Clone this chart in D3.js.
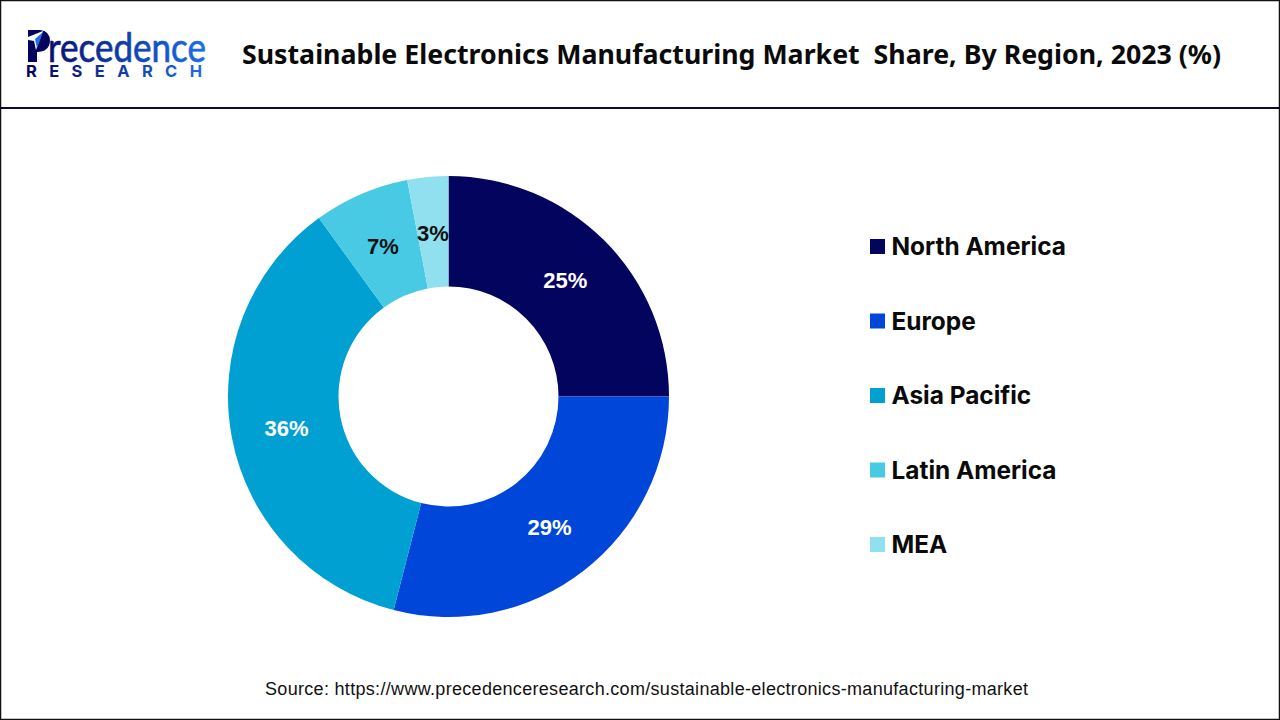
<!DOCTYPE html>
<html>
<head>
<meta charset="utf-8">
<script src="https://cdn.jsdelivr.net/npm/d3@7"></script>
<style>
html, body { margin: 0; padding: 0; background: #fff; }
svg { display: block; }
</style>
</head>
<body>
<svg width="1280" height="720"></svg>
<script>
var regions = ['North America', 'Europe', 'Asia Pacific', 'Latin America', 'MEA'];
var shares = [25, 29, 36, 7, 3];
var colors = ['#03045e', '#0047d9', '#00a0d2', '#48cae4', '#90e0ef'];
var labelColors = ['#fff', '#fff', '#fff', '#111', '#111'];
var titleText = 'Sustainable Electronics Manufacturing Market  Share, By Region, 2023 (%)';
var sourceText = 'Source: https://www.precedenceresearch.com/sustainable-electronics-manufacturing-market';

var svg = d3.select('svg');

// frame and header rule
svg.append('rect')
    .attr('x', 0.5).attr('y', 0.5)
    .attr('width', 1279).attr('height', 719)
    .attr('fill', 'none').attr('stroke', '#111').attr('stroke-width', 1.5);
svg.append('line')
    .attr('x1', 0).attr('x2', 1280)
    .attr('y1', 108).attr('y2', 108)
    .attr('stroke', '#0a0a2a').attr('stroke-width', 2);

// logo
var defs = svg.append('defs');
var grad = defs.append('linearGradient').attr('id', 'logoGrad')
    .attr('gradientUnits', 'userSpaceOnUse')
    .attr('x1', 25).attr('x2', 205).attr('y1', 0).attr('y2', 0);
grad.append('stop').attr('offset', '0%').attr('stop-color', '#03045e');
grad.append('stop').attr('offset', '100%').attr('stop-color', '#1a6fe8');

var logo = svg.append('g');
logo.append('path')
    .attr('d', 'M28 30 H40 Q50 31 50 41 Q49 52 37 52 V62 H28 Z')
    .attr('fill', '#03045e');
logo.append('path')
    .attr('d', 'M23 39 L43 31 L36 50 L34 41 Z')
    .attr('fill', '#fff');
logo.append('path')
    .attr('d', 'M37 48 L43 32 L35 39 Z')
    .attr('fill', '#1a6fe8');
logo.append('text')
    .attr('x', 48).attr('y', 61.5)
    .attr('font-family', 'Lato, sans-serif')
    .attr('font-size', 41)
    .attr('textLength', 158)
    .attr('lengthAdjust', 'spacingAndGlyphs')
    .attr('fill', 'url(#logoGrad)')
    .attr('stroke', 'url(#logoGrad)')
    .attr('stroke-width', 0.7)
    .text('recedence');
logo.append('text')
    .attr('x', 26).attr('y', 77)
    .attr('font-family', 'Inter, sans-serif')
    .attr('font-weight', 700)
    .attr('font-size', 16.5)
    .attr('textLength', 176)
    .attr('fill', 'url(#logoGrad)')
    .text('RESEARCH');

// title
svg.append('text')
    .attr('x', 242).attr('y', 64)
    .attr('font-family', '"Noto Sans", sans-serif')
    .attr('font-weight', 700)
    .attr('font-size', 26)
    .attr('textLength', 979)
    .attr('lengthAdjust', 'spacingAndGlyphs')
    .style('white-space', 'pre')
    .attr('fill', '#0a0a0a')
    .text(titleText);

// donut
var cx = 448.5, cy = 396.5, outerR = 220.5, innerR = 110;
var pie = d3.pie().sort(null).value(function (d) { return d; });
var arc = d3.arc().innerRadius(innerR).outerRadius(outerR);
var labelArc = d3.arc().innerRadius(165).outerRadius(165);
var chart = svg.append('g').attr('transform', 'translate(' + cx + ',' + cy + ')');
var slices = pie(shares);

chart.selectAll('.slice')
    .data(slices)
    .enter().append('path')
    .attr('class', 'slice')
    .attr('d', arc)
    .attr('fill', function (d, i) { return colors[i]; });

chart.selectAll('.pct')
    .data(slices)
    .enter().append('text')
    .attr('class', 'pct')
    .attr('transform', function (d) { return 'translate(' + labelArc.centroid(d) + ')'; })
    .attr('text-anchor', 'middle')
    .attr('dy', '0.39em')
    .attr('font-family', '"Liberation Sans", Arial, sans-serif')
    .attr('font-weight', 700)
    .attr('font-size', 22)
    .attr('fill', function (d, i) { return labelColors[i]; })
    .text(function (d) { return d.data + '%'; });

// legend
var legendY = d3.scalePoint().domain(regions).range([246.5, 544.5]);
var legend = svg.selectAll('.legend')
    .data(regions)
    .enter().append('g')
    .attr('class', 'legend')
    .attr('transform', function (d) { return 'translate(870,' + legendY(d) + ')'; });
legend.append('rect')
    .attr('x', 0).attr('y', -7.5)
    .attr('width', 15).attr('height', 15)
    .attr('fill', function (d, i) { return colors[i]; });
legend.append('text')
    .attr('x', 21.5).attr('y', 8.5)
    .attr('font-family', 'Inter, sans-serif')
    .attr('font-weight', 700)
    .attr('font-size', 24.4)
    .attr('fill', '#0a0a0a')
    .text(function (d) { return d; });

// source
svg.append('text')
    .attr('x', 646.5).attr('y', 694.5)
    .attr('text-anchor', 'middle')
    .attr('font-family', '"Liberation Sans", Arial, sans-serif')
    .attr('font-size', 18)
    .attr('textLength', 763)
    .attr('fill', '#111')
    .text(sourceText);
</script>
</body>
</html>
